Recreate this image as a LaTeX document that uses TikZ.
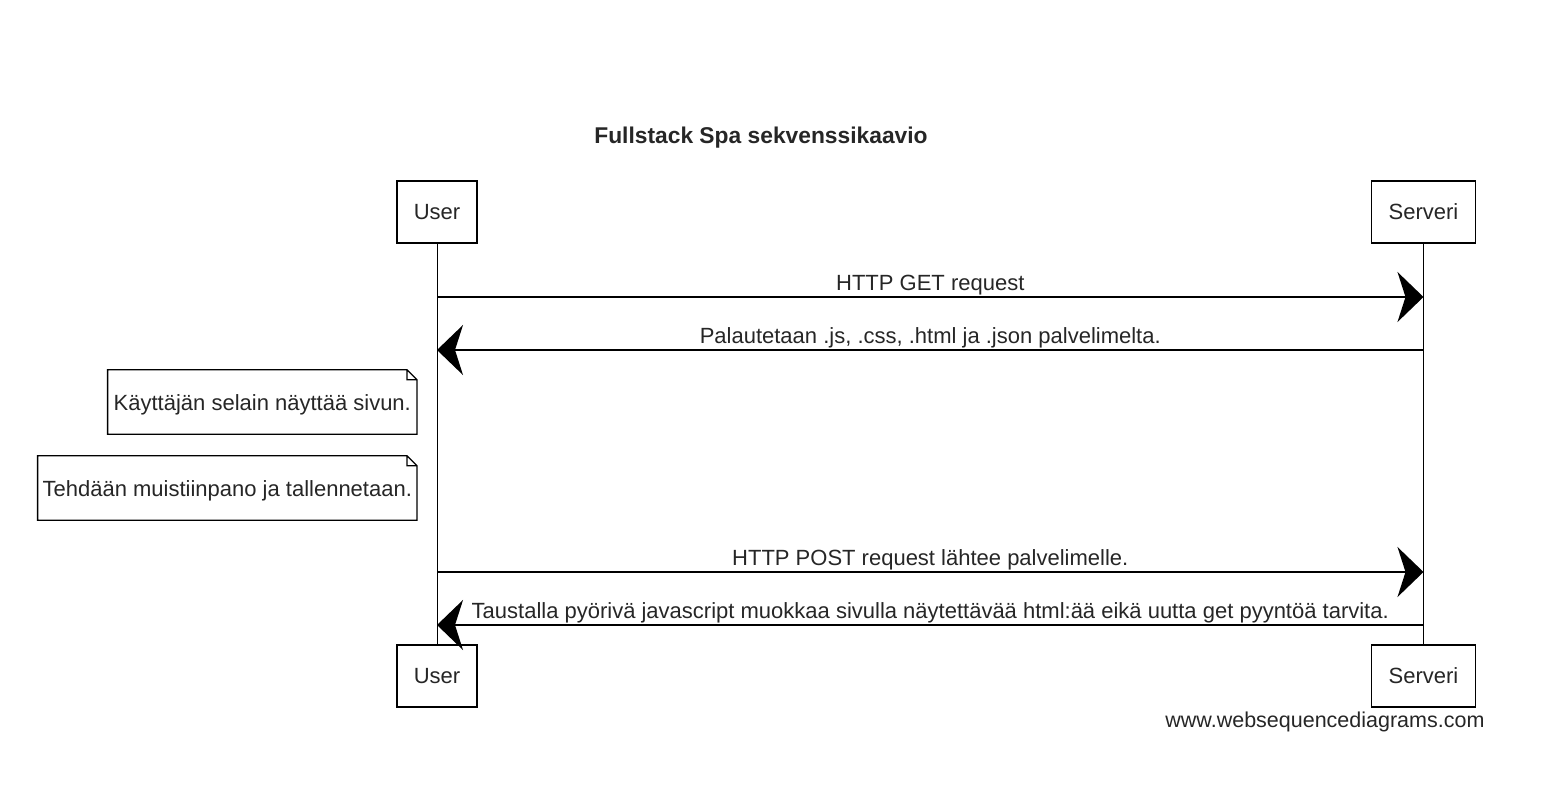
\documentclass[tikz,border=0pt]{standalone}
\usepackage{fontspec}
\setmainfont{Liberation Sans}
\usetikzlibrary{arrows.meta,calc}

\begin{document}
\begin{tikzpicture}[x=1pt,y=-1pt,
	every node/.style={font=\fontsize{22}{26}\selectfont, text=black!85},
	actor/.style={draw, fill=white, line width=1.5pt, minimum height=62pt, inner xsep=17pt},
	lifeline/.style={line width=1pt},
	msg/.style={line width=1.5pt, -{Stealth[length=26pt,width=50pt,inset=8pt]}},
	lbl/.style={anchor=base, yshift=7pt, inner sep=0pt},
	notebox/.style={minimum height=64pt, inner sep=0pt, anchor=east, text height=21pt, text depth=4pt},
	noteline/.style={line width=1.3pt}]
\useasboundingbox (0,0) rectangle (1543,785);

\node[font=\fontsize{22.8}{27}\selectfont\bfseries] (title) at (761,138) {Fullstack Spa sekvenssikaavio};

% participants
\node[actor] (U1) at (437,212) {User};
\node[actor] (S1) at (1423.5,212) {Serveri};
\draw[lifeline] (U1.south) -- (U1.south |- 0,645);
\draw[lifeline] (S1.south) -- (S1.south |- 0,645);
\node[actor] (U2) at (437,676) {User};
\node[actor] (S2) at (1423.5,676) {Serveri};

% message ends on the lifelines
\coordinate (U-get) at (U1 |- 0,297);
\coordinate (S-get) at (S1 |- 0,297);
\coordinate (U-files) at (U1 |- 0,350);
\coordinate (S-files) at (S1 |- 0,350);
\coordinate (U-post) at (U1 |- 0,572);
\coordinate (S-post) at (S1 |- 0,572);
\coordinate (U-js) at (U1 |- 0,625);
\coordinate (S-js) at (S1 |- 0,625);

\draw[msg] (U-get) -- node[lbl] {HTTP GET request} (S-get);
\draw[msg] (S-files) -- node[lbl] {Palautetaan .js, .css, .html ja .json palvelimelta.} (U-files);

% notes
\node[notebox, minimum width=309pt] (N1) at (417,402) {Käyttäjän selain näyttää sivun.};
\node[notebox, minimum width=379pt] (N2) at (417,488) {Tehdään muistiinpano ja tallennetaan.};
\draw[noteline] (N1.north west) -- ($(N1.north east)+(-10,0)$) -- ($(N1.north east)+(0,10)$)
	-- (N1.south east) -- (N1.south west) -- cycle
	($(N1.north east)+(-10,0)$) -- ($(N1.north east)+(-10,10)$) -- ($(N1.north east)+(0,10)$);
\draw[noteline] (N2.north west) -- ($(N2.north east)+(-10,0)$) -- ($(N2.north east)+(0,10)$)
	-- (N2.south east) -- (N2.south west) -- cycle
	($(N2.north east)+(-10,0)$) -- ($(N2.north east)+(-10,10)$) -- ($(N2.north east)+(0,10)$);

\draw[msg] (U-post) -- node[lbl] {HTTP POST request lähtee palvelimelle.} (S-post);
\draw[msg] (S-js) -- node[lbl] {Taustalla pyörivä javascript muokkaa sivulla näytettävää html:ää eikä uutta get pyyntöä tarvita.} (U-js);

\node[anchor=east, font=\fontsize{21.5}{25}\selectfont] (site) at (1488,722) {www.websequencediagrams.com};
\end{tikzpicture}
\end{document}
